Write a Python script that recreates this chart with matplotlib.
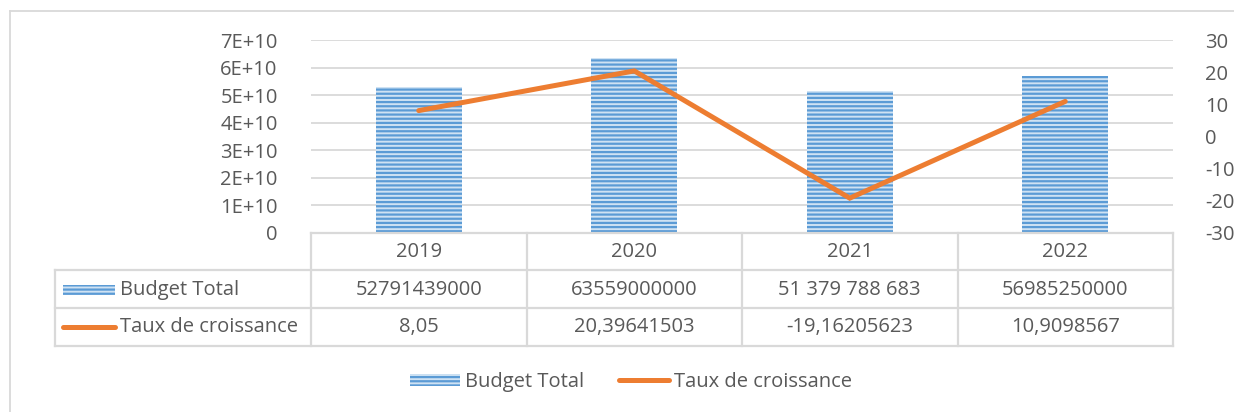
import matplotlib
matplotlib.use("Agg")
import matplotlib.pyplot as plt
from matplotlib.lines import Line2D
from matplotlib.patches import Rectangle, Patch

# data
years = ["2019", "2020", "2021", "2022"]
budget = [52791439000, 63559000000, 51379788683, 56985250000]
taux = [8.05, 20.39641503, -19.16205623, 10.9098567]
budget_txt = ["52791439000", "63559000000", "51 379 788 683", "56985250000"]
taux_txt = ["8,05", "20,39641503", "-19,16205623", "10,9098567"]
left_ticks = [0, 1e10, 2e10, 3e10, 4e10, 5e10, 6e10, 7e10]
left_labels = ["0", "1E+10", "2E+10", "3E+10", "4E+10", "5E+10", "6E+10", "7E+10"]
right_ticks = [-30, -20, -10, 0, 10, 20, 30]

W, H = 1234, 412
BLUE = "#5b9bd5"
BLUE_LIGHT = "#cfe2f3"
ORANGE = "#ed7d31"
GRID = "#d9d9d9"
TXT = "#595959"
FS = 14.5

plt.rcParams["font.family"] = ["Open Sans", "DejaVu Sans"]
plt.rcParams["hatch.linewidth"] = 1.6
plt.rcParams["axes.unicode_minus"] = False

fig = plt.figure(figsize=(W / 100, H / 100), dpi=100)

def fx(x):
    return x / W

def fy(y):
    return 1 - y / H

# plot area
x0, x1, ytop, ybot = 311, 1173, 40, 233
ax = fig.add_axes([fx(x0), fy(ybot), fx(x1) - fx(x0), fy(ytop) - fy(ybot)])
ax.bar(range(len(years)), budget, width=0.4, color=BLUE_LIGHT, edgecolor=BLUE,
       linewidth=0, hatch="----", zorder=2)
ax.set_xlim(-0.5, len(years) - 0.5)
ax.set_ylim(0, 7e10)
ax.set_yticks(left_ticks)
ax.set_yticklabels(left_labels)
ax.set_xticks([])
ax.yaxis.grid(True, color=GRID, linewidth=1.3)
ax.set_axisbelow(True)
for s in ax.spines.values():
    s.set_visible(False)
ax.tick_params(axis="y", length=0, pad=24, labelsize=FS, labelcolor=TXT)

ax2 = ax.twinx()
ax2.plot(range(len(years)), taux, color=ORANGE, linewidth=3.6,
         solid_capstyle="round", solid_joinstyle="miter", zorder=3)
ax2.set_ylim(-30, 30)
ax2.set_yticks(right_ticks)
ax2.set_xlim(-0.5, len(years) - 0.5)
for s in ax2.spines.values():
    s.set_visible(False)
ax2.tick_params(axis="y", length=0, pad=23, labelsize=FS, labelcolor=TXT)

# outer chart border
fig.add_artist(Line2D([fx(10), fx(10)], [fy(11), fy(420)], color=GRID, lw=1.3,
                      transform=fig.transFigure))
fig.add_artist(Line2D([fx(10), fx(1260)], [fy(11), fy(11)], color=GRID, lw=1.3,
                      transform=fig.transFigure))

# data table
col_edges = [311, 526.5, 742, 957.5, 1173]
row_edges = [233, 270, 308, 346]
lab_left = 55

def hline(xa, xb, y):
    fig.add_artist(Line2D([fx(xa), fx(xb)], [fy(y), fy(y)], color=GRID, lw=1.6,
                          transform=fig.transFigure))

def vline(x, ya, yb):
    fig.add_artist(Line2D([fx(x), fx(x)], [fy(ya), fy(yb)], color=GRID, lw=1.6,
                          transform=fig.transFigure))

hline(x0, x1, row_edges[0])
for y in row_edges[1:]:
    hline(lab_left, x1, y)
for x in col_edges:
    vline(x, row_edges[0], row_edges[-1])
vline(lab_left, row_edges[1], row_edges[-1])

for i, yr in enumerate(years):
    cx = (col_edges[i] + col_edges[i + 1]) / 2
    fig.text(fx(cx), fy(252), yr, ha="center", va="center", fontsize=FS, color=TXT)
    fig.text(fx(cx), fy(290), budget_txt[i], ha="center", va="center", fontsize=FS, color=TXT)
    fig.text(fx(cx), fy(327), taux_txt[i], ha="center", va="center", fontsize=FS, color=TXT)

# row label keys
fig.add_artist(Rectangle((fx(63), fy(295)), fx(115) - fx(63), fy(285) - fy(295),
                         facecolor=BLUE_LIGHT, edgecolor=BLUE, lw=0, hatch="----",
                         transform=fig.transFigure))
fig.add_artist(Line2D([fx(63), fx(115)], [fy(327), fy(327)], color=ORANGE, lw=3.6,
                      solid_capstyle="round", transform=fig.transFigure))
fig.text(fx(120), fy(290), "Budget Total", ha="left", va="center", fontsize=FS, color=TXT)
fig.text(fx(120), fy(327), "Taux de croissance", ha="left", va="center", fontsize=FS, color=TXT)

# legend
handles = [Patch(facecolor=BLUE_LIGHT, edgecolor=BLUE, linewidth=0, hatch="----"),
           Line2D([], [], color=ORANGE, lw=3.6, solid_capstyle="round")]
fig.legend(handles, ["Budget Total", "Taux de croissance"], loc="center",
           bbox_to_anchor=(fx(631), fy(382)), ncol=2, frameon=False,
           fontsize=FS, labelcolor=TXT, handlelength=2.5, handleheight=0.55,
           handletextpad=0.25, columnspacing=1.7)

fig.savefig("out.png", dpi=100)
